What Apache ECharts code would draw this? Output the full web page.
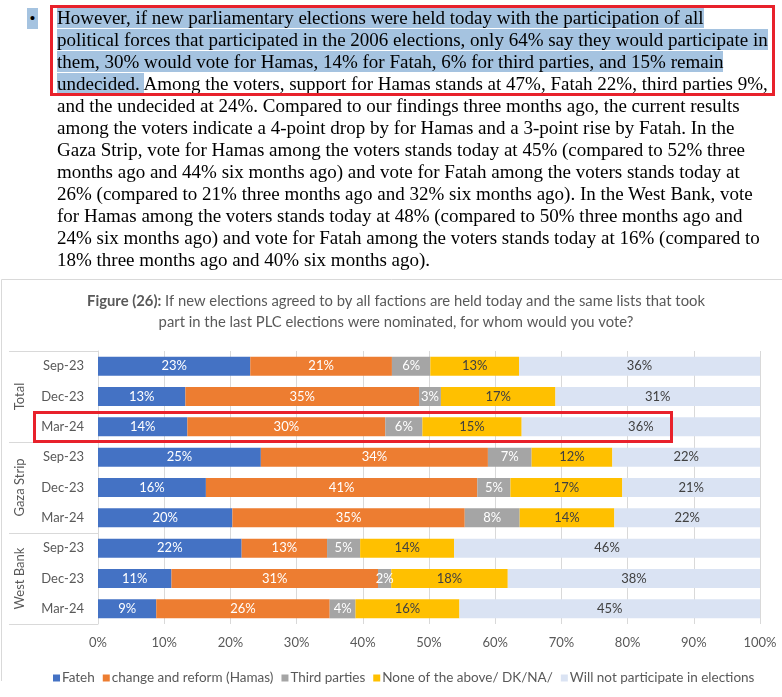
<!DOCTYPE html>
<html>
<head>
<meta charset="utf-8">
<title>Figure 26</title>
<script src="https://cdn.jsdelivr.net/npm/echarts@6/dist/echarts.min.js"></script>
<style>
  html, body { margin: 0; padding: 0; background: #fff; }
  #wrap { position: relative; width: 782px; height: 697px; overflow: hidden; }
  #chart { position: absolute; left: 0; top: 0; width: 782px; height: 697px; }
  #para { position: absolute; left: 0; top: 7px; font-family: "Liberation Serif", "Times New Roman", serif; font-size: 19px; color: #000; }
  #para .ln { position: absolute; left: 57px; height: 22px; line-height: 22px; white-space: nowrap; }
  #para .hl { background: #a5c3e0; }
  #bullet { position: absolute; left: 27px; top: 1px; width: 11px; height: 21px; background: #a5c3e0; text-align: center; line-height: 21px; font-size: 17px; }
  #redbox { position: absolute; left: 50px; top: 5px; width: 719px; height: 85px; border: 3px solid #e8212b; }
</style>
</head>
<body>
<div id="wrap">
  <div id="chart"></div>
  <div id="para">
    <div id="bullet">•</div>
    <div class="ln" style="top:0px"><span class="hl">However, if new parliamentary elections were held today with the participation of all</span></div>
    <div class="ln" style="top:22px"><span class="hl">political forces that participated in the 2006 elections, only 64% say they would participate in</span></div>
    <div class="ln" style="top:44px"><span class="hl">them, 30% would vote for Hamas, 14% for Fatah, 6% for third parties, and 15% remain </span></div>
    <div class="ln" style="top:66px"><span class="hl">undecided. </span>Among the voters, support for Hamas stands at 47%, Fatah 22%, third parties 9%,</div>
    <div class="ln" style="top:88px">and the undecided at 24%. Compared to our findings three months ago, the current results</div>
    <div class="ln" style="top:110px">among the voters indicate a 4-point drop by for Hamas and a 3-point rise by Fatah. In the</div>
    <div class="ln" style="top:132px">Gaza Strip, vote for Hamas among the voters stands today at 45% (compared to 52% three</div>
    <div class="ln" style="top:154px">months ago and 44% six months ago) and vote for Fatah among the voters stands today at</div>
    <div class="ln" style="top:176px">26% (compared to 21% three months ago and 32% six months ago). In the West Bank, vote</div>
    <div class="ln" style="top:198px">for Hamas among the voters stands today at 48% (compared to 50% three months ago and</div>
    <div class="ln" style="top:220px">24% six months ago) and vote for Fatah among the voters stands today at 16% (compared to</div>
    <div class="ln" style="top:242px">18% three months ago and 40% six months ago).</div>
  </div>
  <div id="redbox"></div>
</div>
<script>
// 分组和时间
const groups = ['Total', 'Gaza Strip', 'West Bank']
const periods = ['Sep-23', 'Dec-23', 'Mar-24']
const seriesNames = ['Fateh', 'change and reform (Hamas)', 'Third parties', 'None of the above/ DK/NA/', 'Will not participate in elections']

// 每行：Total Sep/Dec/Mar, Gaza Sep/Dec/Mar, West Bank Sep/Dec/Mar
const fateh = [23.0, 13.2, 13.5, 24.6, 16.3, 20.3, 21.7, 11.1, 8.8]
const hamas = [21.4, 35.3, 29.9, 34.3, 41.0, 35.1, 12.9, 31.2, 26.2]
const third = [5.8, 3.3, 5.6, 6.6, 5.0, 8.3, 5.0, 2.0, 3.9]
const noneAbove = [13.4, 17.3, 15.0, 12.2, 16.9, 14.3, 14.2, 17.6, 15.7]
const willNot = [36.4, 30.9, 36.0, 22.3, 20.8, 22.0, 46.2, 38.1, 45.4]

const xTicks = [0, 10, 20, 30, 40, 50, 60, 70, 80, 90, 100]

const colors = ['#4472c4', '#ed7d31', '#a5a5a5', '#ffc000', '#dae3f3']
const labelColors = ['#ffffff', '#ffffff', '#ffffff', '#404040', '#404040']
const font = 'Lato, "Open Sans", sans-serif'

const rowKeys = []
groups.forEach((g, gi) => periods.forEach((p, pi) => rowKeys.push(String(gi * 3 + pi))))

const chart = echarts.init(document.getElementById('chart'))

const makeSeries = (name, values, i) => ({
  name: name,
  type: 'bar',
  stack: 'all',
  barWidth: 19,
  data: values,
  itemStyle: { color: colors[i] },
  label: {
    show: true,
    position: 'inside',
    color: labelColors[i],
    fontFamily: font,
    fontSize: 13,
    formatter: p => Math.round(p.value) + '%'
  }
})

chart.setOption({
  animation: false,
  textStyle: { fontFamily: font },
  color: colors,
  grid: { left: 98, right: 22, top: 351, bottom: 73, containLabel: false },
  legend: {
    data: seriesNames,
    left: 48,
    top: 666,
    icon: 'rect',
    itemWidth: 7,
    itemHeight: 7,
    itemGap: 8,
    textStyle: { color: '#595959', fontSize: 13.5, fontFamily: font, padding: [0, 0, 0, -3] }
  },
  xAxis: {
    type: 'value',
    min: xTicks[0],
    max: xTicks[xTicks.length - 1],
    interval: 10,
    axisLine: { show: false },
    axisTick: { show: false },
    splitLine: { lineStyle: { color: '#d9d9d9' } },
    axisLabel: { formatter: '{value}%', color: '#595959', fontSize: 13, fontFamily: font, margin: 12 }
  },
  yAxis: [
    {
      type: 'category',
      data: rowKeys,
      inverse: true,
      position: 'left',
      axisTick: { show: false },
      axisLine: { lineStyle: { color: '#d9d9d9' } },
      axisLabel: {
        color: '#595959',
        fontSize: 13,
        fontFamily: font,
        margin: 14,
        formatter: v => periods[Number(v) % 3]
      }
    },
    {
      type: 'category',
      data: groups,
      inverse: true,
      position: 'left',
      axisLine: { show: false },
      axisTick: { show: true, length: 89, lineStyle: { color: '#d9d9d9' } },
      axisLabel: { rotate: 90, margin: 72, color: '#595959', fontSize: 13, fontFamily: font }
    }
  ],
  series: [
    makeSeries(seriesNames[0], fateh, 0),
    makeSeries(seriesNames[1], hamas, 1),
    makeSeries(seriesNames[2], third, 2),
    makeSeries(seriesNames[3], noneAbove, 3),
    makeSeries(seriesNames[4], willNot, 4)
  ],
  graphic: [
    // 外框
    { type: 'polyline', shape: { points: [[1.5, 681], [1.5, 279.5], [782, 279.5]] }, style: { stroke: '#d9d9d9', fill: null, lineWidth: 1 } },
    // 标题
    {
      type: 'text',
      x: 396,
      y: 291,
      style: {
        text: '{b|Figure (26):} If new elections agreed to by all factions are held today and the same lists that took\npart in the last PLC elections were nominated, for whom would you vote?',
        align: 'center',
        fill: '#595959',
        font: '14.8px ' + font,
        lineHeight: 21,
        rich: { b: { fontWeight: 'bold', fill: '#595959', fontSize: 14.8, fontFamily: font } }
      }
    },
    // 红框
    { type: 'rect', shape: { x: 34.5, y: 412.5, width: 637, height: 29 }, style: { fill: null, stroke: '#e8212b', lineWidth: 3 }, z: 100 }
  ]
})
</script>
</body>
</html>
